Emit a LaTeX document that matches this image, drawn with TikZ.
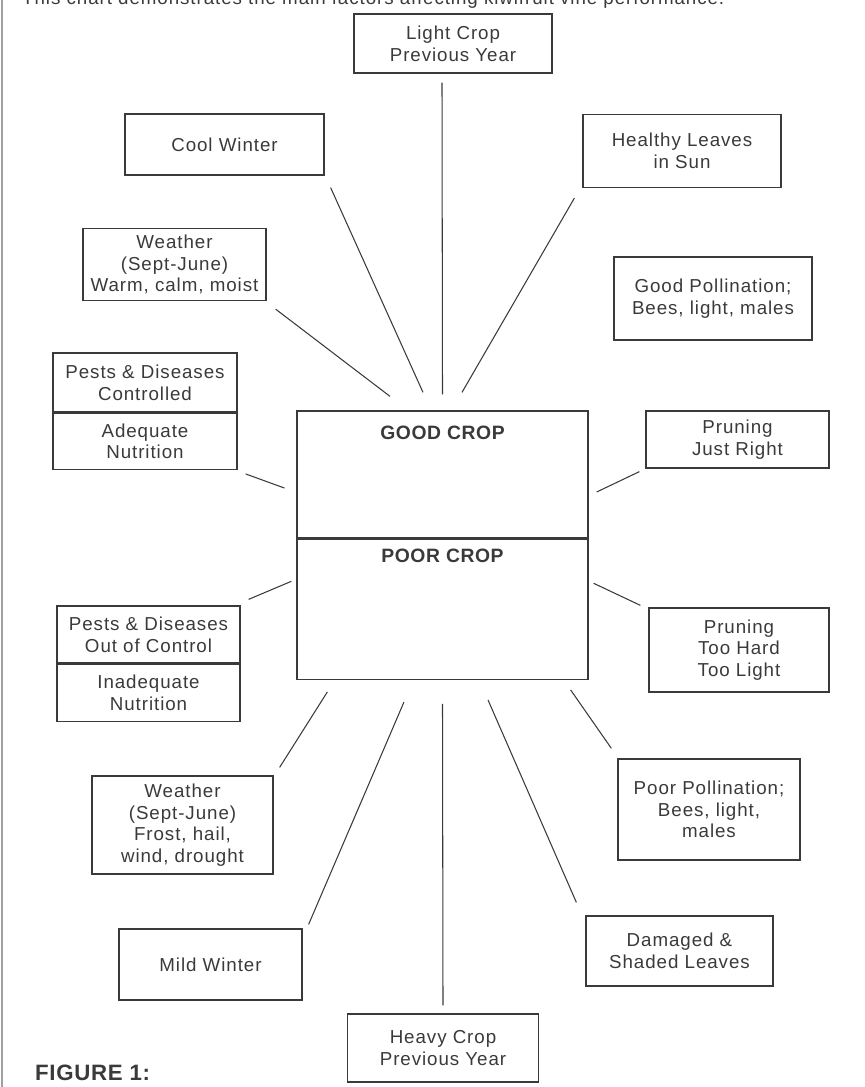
\documentclass[tikz,border=0pt]{standalone}
\usepackage{fontspec}
\setmainfont{Liberation Sans}
\newfontfamily\boxfont{Liberation Sans}[LetterSpace=5]
\newfontfamily\headfont{Liberation Sans}[LetterSpace=3]
\usepackage{xcolor}
\usetikzlibrary{positioning}
\definecolor{inkgrey}{HTML}{3A3A3A}
\definecolor{rulegrey}{HTML}{A0A0A0}

\begin{document}
\begin{tikzpicture}[x=0.03cm, y=-0.03cm,
    factor/.style={draw=inkgrey, line width=1.1pt, rectangle, align=center, inner sep=0pt,
      text=inkgrey, font=\boxfont\fontsize{16}{18.5}\selectfont},
    boxdim/.style 2 args={minimum width=#1*0.03cm, minimum height=#2*0.03cm},
    link/.style={draw=inkgrey, line width=0.9pt},
    croptext/.style={inner sep=0pt, text=inkgrey, font=\headfont\bfseries\fontsize{16.5}{20}\selectfont}]
    \useasboundingbox (0,0) rectangle (864,1087);
    \draw[rulegrey, line width=1.5pt] (2,0) -- (2,1087);
    \node[anchor=base west, inner sep=0pt, text=inkgrey, font=\boxfont\fontsize{16}{18}\selectfont] (intro) at (22,4)
      {This chart demonstrates the main factors affecting kiwifruit vine performance.};

    % good side
    \node[factor, boxdim={198}{59}] (lightprev) at (453,43.5) {Light Crop\\Previous Year};
    \node[factor, boxdim={199}{61}] (cwinter) at (224.5,144.5) {Cool Winter};
    \node[factor, boxdim={198}{73}] (healthy) at (682,151) {Healthy Leaves\\in Sun};
    \node[factor, boxdim={183}{72}] (weatherg) at (174.5,264.5) {Weather\\(Sept-June)\\Warm, calm, moist};
    \node[factor, boxdim={198}{83}] (goodpoll) at (713,298.5) {Good Pollination;\\Bees, light, males};
    \node[factor, boxdim={184}{59}] (pestsok) at (145,382.5) {Pests \& Diseases\\Controlled};
    \node[factor, boxdim={184}{56}, below=0pt of pestsok] (nutrok) {Adequate\\Nutrition};
    \node[factor, boxdim={183}{57}] (pjust) at (737.5,439.5) {Pruning\\Just Right};

    % the crop
    \node[factor, boxdim={291}{127}] (good) at (442.5,474.5) {};
    \node[factor, boxdim={291}{140}, below=0pt of good] (poor) {};
    \node[croptext, below=0.45cm of good.north] (goodlbl) {GOOD CROP};
    \node[croptext, below=0.3cm of poor.north] (poorlbl) {POOR CROP};

    % poor side
    \node[factor, boxdim={183}{57}] (pestsbad) at (148.5,634.5) {Pests \& Diseases\\Out of Control};
    \node[factor, boxdim={183}{57}, below=0pt of pestsbad] (nutbad) {Inadequate\\Nutrition};
    \node[factor, boxdim={180}{84}] (ptoo) at (739,650) {Pruning\\Too Hard\\Too Light};
    \node[factor, boxdim={181}{98}] (weatherp) at (182.5,825) {Weather\\(Sept-June)\\Frost, hail,\\wind, drought};
    \node[factor, boxdim={182}{101}] (poorpoll) at (709,809.5) {Poor Pollination;\\Bees, light,\\males};
    \node[factor, boxdim={183}{71}] (mwinter) at (210.5,964.5) {Mild Winter};
    \node[factor, boxdim={187}{70}] (damaged) at (679.5,951) {Damaged \&\\Shaded Leaves};
    \node[factor, boxdim={191}{68}] (heavyprev) at (443,1048) {Heavy Crop\\Previous Year};

    \node[anchor=base west, inner sep=0pt, text=inkgrey, font=\headfont\bfseries\fontsize{19}{22}\selectfont] (figlbl) at (35,1080) {FIGURE 1:};

    % links into the good crop
    \draw[link] ([shift={(-11,9)}]lightprev.south) -- ([shift={(0,-16)}]good.north);
    \draw[link] ([shift={(6,12)}]cwinter.south east) -- ([shift={(-19.5,-18)}]good.north);
    \draw[link] ([shift={(-8,10)}]healthy.south west) -- ([shift={(19.5,-18)}]good.north);
    \draw[link] ([shift={(9,8)}]weatherg.south east) -- ([shift={(-52.5,-14)}]good.north);
    \draw[link] ([shift={(8,4)}]nutrok.south east) -- ([shift={(-12,13.5)}]good.west);
    \draw[link] ([shift={(-6,3)}]pjust.south west) -- ([shift={(8,17.5)}]good.east);

    % links into the poor crop
    \draw[link] ([shift={(8,-6)}]pestsbad.north east) -- ([shift={(-5,-28)}]poor.west);
    \draw[link] ([shift={(-8,-2)}]ptoo.north west) -- ([shift={(5,-26)}]poor.east);
    \draw[link] ([shift={(6,-8)}]weatherp.north east) -- ([shift={(31,12)}]poor.south west);
    \draw[link] ([shift={(6,-4)}]mwinter.north east) -- ([shift={(-38.5,22)}]poor.south);
    \draw[link] ([shift={(0,-8)}]heavyprev.north) -- ([shift={(0,24)}]poor.south);
    \draw[link] ([shift={(-9,-13)}]damaged.north west) -- ([shift={(45.5,20)}]poor.south);
    \draw[link] ([shift={(-6,-10)}]poorpoll.north west) -- ([shift={(-18,10)}]poor.south east);
\end{tikzpicture}
\end{document}
